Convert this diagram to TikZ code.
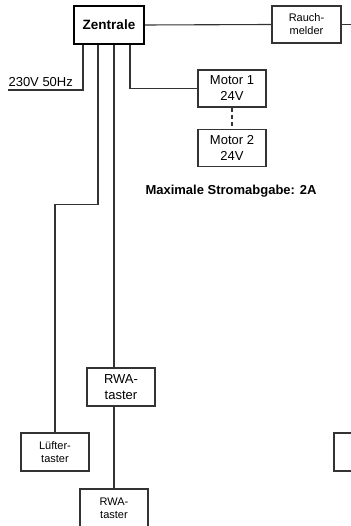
\documentclass[tikz,border=0pt]{standalone}
\usepackage{fontspec}
\setmainfont{Liberation Sans}
\usetikzlibrary{positioning}

\begin{document}
\begin{tikzpicture}[x=1pt,y=-1pt,
    line width=1.1pt,
    wire/.style={draw=black!80, line width=1.1pt},
    box/.style={draw=black!80, line width=1.1pt, minimum width=68pt, minimum height=37pt, inner sep=0pt, align=center},
    bigtxt/.style={font=\fontsize{13}{16}\selectfont},
    smalltxt/.style={font=\fontsize{11}{13}\selectfont},
    central/.style={box, draw=black, line width=1.8pt, minimum width=70pt, minimum height=38pt, font=\fontsize{13.5}{16}\selectfont\bfseries},
    note/.style={font=\fontsize{13}{16}\selectfont\bfseries, inner sep=0pt}
]
    \useasboundingbox (0,0) rectangle (350,526);

    % Zentrale und Rauchmelder
    \node[central] (zentrale) at (109,25) {Zentrale};
    \node[box, smalltxt, minimum width=69pt] (rauch) at (306.5,24.5) {Rauch-\\melder};
    \coordinate (rauchweiter) at (356,24.5);

    % Motoren
    \node[box, bigtxt] (motora) at (232,88.5) {Motor 1\\24V};
    \node[box, bigtxt, below=21pt of motora] (motorb) {Motor 2\\24V};
    \node[note] (maxstrom) at (231,191) {Maximale Stromabgabe: 2A};

    % Netzanschluss
    \coordinate (netz) at (8,90);
    \node[bigtxt, anchor=south west, inner sep=0pt] (netztxt) at (8,87) {230V 50Hz};

    % Taster
    \node[box, smalltxt, minimum height=38pt] (luefter) at (55,452) {Lüfter-\\taster};
    \node[box, bigtxt, minimum height=38pt] (rwaa) at (121,387) {RWA-\\taster};
    \node[box, smalltxt, minimum height=38pt] (rwab) at (114,508) {RWA-\\taster};
    \node[box, minimum height=38pt] (rechts) at (368,452) {};

    % Leitungen
    \draw[wire] (zentrale.east) -- (rauch.west);
    \draw[wire] (rauch.east) -- (rauchweiter);
    \draw[wire] ([xshift=-26pt]zentrale.south) |- (netz);
    \draw[wire] ([xshift=-11pt]zentrale.south) -- ++(0,160) -| (luefter.north);
    \draw[wire] ([xshift=5pt]zentrale.south) -- ([xshift=-7pt]rwaa.north);
    \draw[wire] ([xshift=-7pt]rwaa.south) -- (rwab.north);
    \draw[wire] ([xshift=21pt]zentrale.south) |- (motora.west);
    \draw[wire, dashed, dash pattern=on 4pt off 3pt] (motora.south) -- (motorb.north);
\end{tikzpicture}
\end{document}
